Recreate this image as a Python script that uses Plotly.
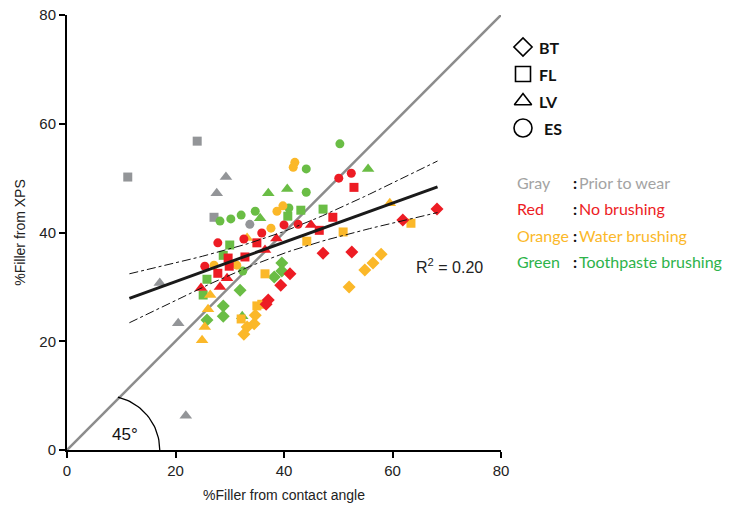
import numpy as np
import plotly.graph_objects as go

# ---------------- data ----------------
# Gray : prior to wear
gray_sq_x = [11.2, 24.0, 27.1]
gray_sq_y = [50.2, 56.8, 42.8]
gray_tri_x = [29.3, 27.6, 17.1, 20.5, 21.9]
gray_tri_y = [50.2, 47.2, 30.7, 23.3, 6.3]
gray_ci_x = [33.7]
gray_ci_y = [41.5]

# Red : no brushing
red_ci_x = [27.8, 25.4, 32.6, 35.9, 40.0, 42.6, 50.1, 52.4]
red_ci_y = [38.1, 33.8, 38.8, 39.9, 41.4, 41.5, 50.0, 50.9]
red_sq_x = [29.7, 29.9, 27.8, 32.8, 35.0, 46.5, 49.0, 52.9]
red_sq_y = [35.3, 33.8, 32.5, 35.5, 38.1, 40.4, 42.8, 48.3]
red_tri_x = [29.5, 28.2, 24.7, 36.5, 38.6, 45.0]
red_tri_y = [31.6, 30.0, 29.8, 36.8, 38.9, 41.4]
red_dia_x = [41.1, 39.4, 37.1, 36.7, 47.2, 52.5, 61.9, 68.2]
red_dia_y = [32.4, 30.3, 27.6, 26.8, 36.2, 36.4, 42.3, 44.3]

# Orange : water brushing
org_ci_x = [42.0, 41.7, 38.7, 39.8, 37.6, 27.1, 31.3]
org_ci_y = [52.9, 52.0, 43.9, 44.9, 40.8, 34.0, 34.0]
org_tri_x = [59.5, 26.4, 26.0, 25.4, 24.9, 33.2]
org_tri_y = [45.4, 28.5, 25.9, 22.6, 20.2, 39.0]
org_sq_x = [50.9, 44.2, 63.4, 36.5, 35.0, 35.9, 32.1]
org_sq_y = [40.1, 38.4, 41.7, 32.4, 26.5, 26.8, 24.1]
org_dia_x = [57.9, 56.4, 54.9, 52.0, 34.7, 34.5, 33.2, 32.6]
org_dia_y = [36.0, 34.4, 33.1, 30.0, 24.8, 23.2, 22.6, 21.3]

# Green : toothpaste brushing
grn_ci_x = [28.2, 30.2, 32.1, 34.7, 40.9, 50.3, 44.1, 44.1, 32.4]
grn_ci_y = [42.1, 42.5, 43.2, 43.9, 44.5, 56.3, 51.7, 47.4, 32.9]
grn_tri_x = [37.1, 40.6, 55.5, 35.6, 32.3]
grn_tri_y = [47.2, 48.0, 51.7, 42.6, 24.6]
grn_sq_x = [43.1, 47.2, 40.7, 30.0, 28.8, 25.8, 25.1]
grn_sq_y = [44.1, 44.3, 43.0, 37.7, 35.8, 31.4, 28.5]
grn_dia_x = [39.6, 39.6, 38.2, 31.9, 28.8, 28.8, 25.8]
grn_dia_y = [34.4, 32.9, 31.8, 29.4, 26.5, 24.6, 23.9]

# regression line and confidence band
fit_x_range = [11.5, 68.3]
fit_slope = 0.361
fit_intercept = 23.75
band_min_halfwidth = 2.0
band_center = 39.0
band_curv = 0.0215
r2_text = "R<sup>2</sup> = 0.20"

tick_vals = [0, 20, 40, 60, 80]
tick_text = ["0", "20", "40", "60", "80"]

# legend texts
shape_names = ["BT", "FL", "LV", "ES"]
shape_symbols = ["diamond-open", "square-open", "triangle-up-open", "circle-open"]
color_names = ["Gray", "Red", "Orange", "Green"]
color_descs = ["Prior to wear", "No brushing", "Water brushing", "Toothpaste brushing"]

# ---------------- colours ----------------
C_GRAY = "#939598"
C_RED = "#ed1c24"
C_ORG = "#fbb829"
C_GRN = "#6abd45"
legend_text_colors = ["#a3a3a3", "#ed1c24", "#fbb829", "#2db34a"]

# figure fills the whole window (page body margin removed in post_script)
W, H = 733, 507
PLOT_L, PLOT_R, PLOT_T, PLOT_B = 67, 501, 15, 450   # pixels of the axes box
LEG_R = 728
ML, MT = PLOT_L, PLOT_T
MB = H - PLOT_B
MR = W - LEG_R
PLOT_W = W - ML - MR

fig = go.Figure()

# 45 degree line
fig.add_trace(go.Scatter(x=[0, 80], y=[0, 80], mode="lines",
                         line=dict(color="#8c8c8c", width=2.5),
                         hoverinfo="skip", showlegend=False))

def add_pts(xs, ys, color, symbol, size):
    fig.add_trace(go.Scatter(x=xs, y=ys, mode="markers",
                             marker=dict(color=color, symbol=symbol, size=size,
                                         line=dict(width=0)),
                             showlegend=False, cliponaxis=False))

groups = [
    (C_GRAY, gray_sq_x, gray_sq_y, gray_tri_x, gray_tri_y, gray_ci_x, gray_ci_y, [], []),
    (C_GRN, grn_sq_x, grn_sq_y, grn_tri_x, grn_tri_y, grn_ci_x, grn_ci_y, grn_dia_x, grn_dia_y),
    (C_ORG, org_sq_x, org_sq_y, org_tri_x, org_tri_y, org_ci_x, org_ci_y, org_dia_x, org_dia_y),
    (C_RED, red_sq_x, red_sq_y, red_tri_x, red_tri_y, red_ci_x, red_ci_y, red_dia_x, red_dia_y),
]
for col, sx, sy, tx, ty, cx, cy, dx, dy in groups:
    add_pts(dx, dy, col, "diamond", 10)
    add_pts(sx, sy, col, "square", 9)
    add_pts(tx, ty, col, "triangle-up", 11)
    add_pts(cx, cy, col, "circle", 9)

# regression and band
xf = np.linspace(fit_x_range[0], fit_x_range[1], 60)
yf = fit_intercept + fit_slope * xf
hw = np.sqrt(band_min_halfwidth ** 2 + band_curv * (xf - band_center) ** 2)
for sgn in (1, -1):
    fig.add_trace(go.Scatter(x=xf, y=yf + sgn * hw, mode="lines",
                             line=dict(color="#111", width=1, dash="dashdot"),
                             hoverinfo="skip", showlegend=False))
fig.add_trace(go.Scatter(x=xf, y=yf, mode="lines",
                         line=dict(color="#1a1a1a", width=3),
                         hoverinfo="skip", showlegend=False))

# ---- legend area on an invisible pixel-scaled axis pair ----
shape_y = [47, 74, 101, 128]
shape_sizes = [14, 15, 15, 18]
shape_label_x = [537, 537, 537, 542]
for sym, lab, yy, sz, lx in zip(shape_symbols, shape_names, shape_y, shape_sizes, shape_label_x):
    fig.add_trace(go.Scatter(x=[523], y=[yy], xaxis="x2", yaxis="y2", mode="markers",
                             marker=dict(symbol=sym, size=sz, color="black",
                                         line=dict(width=1.6, color="black")),
                             showlegend=False, hoverinfo="skip"))
    fig.add_annotation(x=lx, y=yy, xref="x2", yref="y2",
                       text="<b>" + lab + "</b>", showarrow=False, xanchor="left",
                       font=dict(family="Lato", size=16, color="#111"))

color_y = [182, 208, 235, 261]
for name, desc, c, yy in zip(color_names, color_descs, legend_text_colors, color_y):
    fig.add_annotation(x=515, y=yy, xref="x2", yref="y2", text=name, showarrow=False,
                       xanchor="left", font=dict(family="Lato", size=16, color=c))
    fig.add_annotation(x=571, y=yy, xref="x2", yref="y2", text="<b>:</b>", showarrow=False,
                       xanchor="left", font=dict(family="Lato", size=16, color="#111"))
    fig.add_annotation(x=577, y=yy, xref="x2", yref="y2", text=desc, showarrow=False,
                       xanchor="left", font=dict(family="Lato", size=16, color=c))

# R^2 text
fig.add_annotation(x=64.0, y=33.8, xref="x", yref="y", text=r2_text, showarrow=False,
                   xanchor="left", font=dict(family="Liberation Sans", size=16, color="#222"))

# 45 degree arc and label
arc_cx, arc_r = 7.14, 9.96
th = np.linspace(np.deg2rad(77), 0, 30)
fig.add_trace(go.Scatter(x=arc_cx + arc_r * np.cos(th), y=arc_r * np.sin(th), mode="lines",
                         line=dict(color="black", width=1.3),
                         hoverinfo="skip", showlegend=False, cliponaxis=False))
fig.add_annotation(x=10.6, y=2.9, xref="x", yref="y", text="45°", showarrow=False,
                   font=dict(family="Liberation Sans", size=17, color="#111"))

axis_common = dict(range=[0, 80], tickvals=tick_vals, ticktext=tick_text,
                   showgrid=False, zeroline=False, showline=True, linecolor="black",
                   linewidth=2, ticks="outside", ticklen=6, tickwidth=2, tickcolor="black",
                   automargin=False, ticklabeloverflow="allow",
                   tickfont=dict(family="Liberation Sans", size=15, color="#222"))

x_dom_end = (PLOT_R - PLOT_L) / PLOT_W
fig.update_layout(
    width=W, height=H,
    margin=dict(l=ML, r=MR, t=MT, b=MB, autoexpand=False),
    plot_bgcolor="white", paper_bgcolor="white",
    hovermode=False,
    xaxis=dict(**axis_common, domain=[0, x_dom_end],
               title=dict(text="%Filler from contact angle",
                          font=dict(family="Liberation Sans", size=14, color="#222"),
                          standoff=12)),
    yaxis=dict(**axis_common,
               title=dict(text="%Filler from XPS",
                          font=dict(family="Liberation Sans", size=14, color="#222"),
                          standoff=10)),
    xaxis2=dict(domain=[x_dom_end, 1], range=[PLOT_R, LEG_R], visible=False,
                anchor="y2", fixedrange=True),
    yaxis2=dict(domain=[0, 1], range=[PLOT_B, PLOT_T], visible=False,
                anchor="x2", fixedrange=True),
)

fig.write_html("out.html", config={"displayModeBar": False, "staticPlot": True},
               post_script="document.body.style.margin='0';document.body.style.overflow='hidden';")
